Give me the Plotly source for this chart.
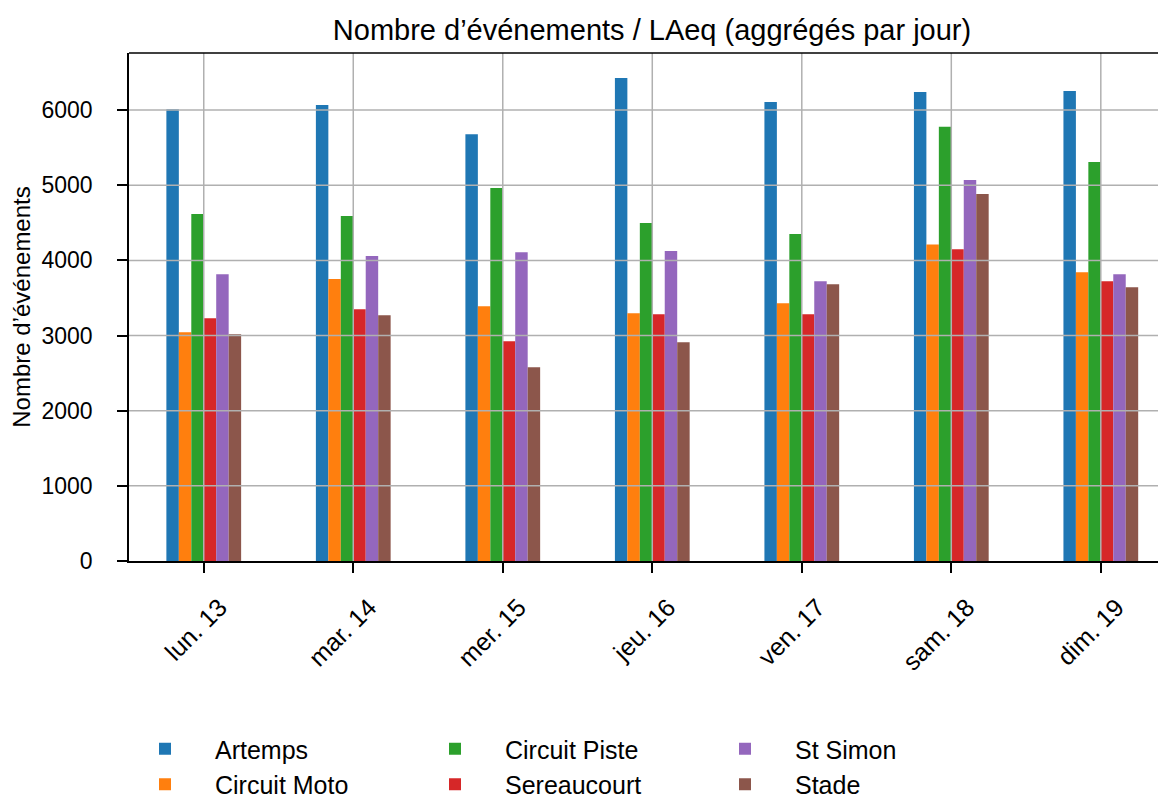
import plotly.graph_objects as go

days = ["lun. 13", "mar. 14", "mer. 15", "jeu. 16", "ven. 17", "sam. 18", "dim. 19"]
series_names = ["Artemps", "Circuit Moto", "Circuit Piste", "Sereaucourt", "St Simon", "Stade"]
artemps = [6010, 6067, 5680, 6427, 6107, 6240, 6253]
circuit_moto = [3044, 3751, 3391, 3298, 3431, 4213, 3844]
circuit_piste = [4617, 4591, 4964, 4497, 4351, 5777, 5311]
sereaucourt = [3231, 3351, 2924, 3284, 3284, 4147, 3724]
st_simon = [3817, 4057, 4107, 4124, 3724, 5071, 3817]
stade = [3017, 3271, 2578, 2911, 3684, 4884, 3644]
y_ticks = [0, 1000, 2000, 3000, 4000, 5000, 6000]

values = [artemps, circuit_moto, circuit_piste, sereaucourt, st_simon, stade]
colors = ["#1f77b4", "#ff7f0e", "#2ca02c", "#d62728", "#9467bd", "#8c564b"]
# legend laid out column-wise (2 rows x 3 columns)
ranks = [1, 4, 2, 5, 3, 6]

FONT = "Liberation Sans"
W, H = 1158, 792  # page body has an 8px margin

fig = go.Figure()
for name, vals, col, rk in zip(series_names, values, colors, ranks):
    fig.add_trace(go.Bar(name=name, x=days, y=vals, marker=dict(color=col, line=dict(width=0)),
                         legendrank=rk))

shapes = []
grid_col = "#b0b0b0"
for v in y_ticks[1:]:
    shapes.append(dict(type="line", xref="paper", x0=0, x1=1, yref="y", y0=v, y1=v,
                       line=dict(color=grid_col, width=1.5), layer="above"))
for i in range(len(days)):
    shapes.append(dict(type="line", xref="x", x0=i, x1=i, yref="paper", y0=0, y1=1,
                       line=dict(color=grid_col, width=1.5), layer="above"))
shapes.append(dict(type="line", xref="paper", x0=0, x1=1, yref="paper", y0=1, y1=1,
                   line=dict(color="black", width=1.6), layer="above"))

fig.update_layout(
    width=W, height=H, autosize=False,
    margin=dict(l=121, r=0, t=45, b=239, pad=0),
    paper_bgcolor="white", plot_bgcolor="white",
    font=dict(family=FONT, size=23, color="black"),
    title=dict(text="Nombre d’événements / LAeq (aggrégés par jour)", x=644 / W, xref="container",
               xanchor="center", y=1 - 22 / H, yref="container", yanchor="middle",
               font=dict(family=FONT, size=29, color="black")),
    barmode="group", bargap=0.5, bargroupgap=0,
    shapes=shapes,
    showlegend=True,
    legend=dict(orientation="h", xref="container", x=107 / W, xanchor="left",
                yref="container", y=1 - 718 / H, yanchor="top",
                entrywidth=185, entrywidthmode="pixels", itemwidth=90,
                font=dict(family=FONT, size=25, color="black"), traceorder="normal"),
    xaxis=dict(type="category", categoryorder="array", categoryarray=days,
               range=[-0.5, 6.436], showgrid=False, zeroline=False, automargin=False,
               showline=True, linecolor="black", linewidth=1.6,
               ticks="outside", ticklen=10, tickwidth=1.6, tickcolor="black",
               tickangle=-45, ticklabelstandoff=10, ticklabelshift=16,
               tickfont=dict(family=FONT, size=25)),
    yaxis=dict(range=[0, 6760], tickvals=y_ticks, showgrid=False, zeroline=False, automargin=False,
               showline=True, linecolor="black", linewidth=1.6,
               ticks="outside", ticklen=10, tickwidth=1.6, tickcolor="black",
               ticklabelstandoff=20,
               tickfont=dict(family=FONT, size=23),
               title=dict(text="Nombre d’événements", font=dict(family=FONT, size=24), standoff=30)),
)

fig.write_html("out.html")
